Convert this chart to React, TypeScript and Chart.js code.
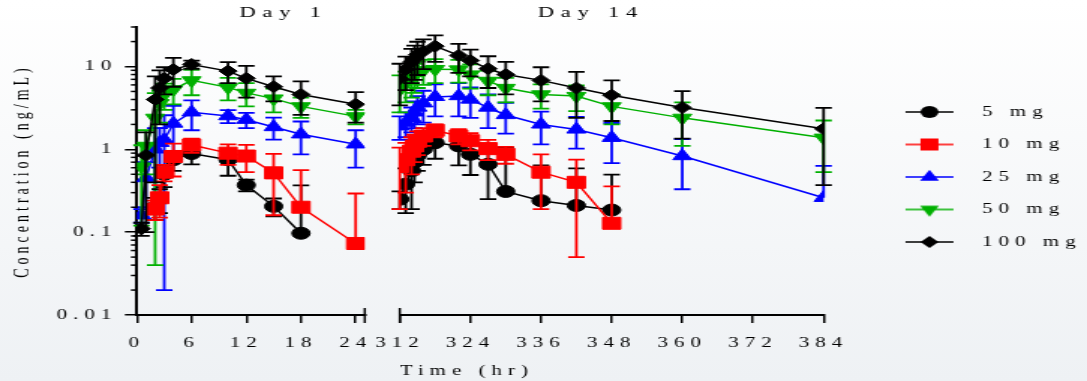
import React, { useEffect, useRef } from 'react';
import { Chart, registerables } from 'chart.js';

Chart.register(...registerables);

// ---------- data ----------
const doseLabels = ['5 mg', '10 mg', '25 mg', '50 mg', '100 mg'];
const doseColors = ['#000000', '#ff0000', '#0000ff', '#00b000', '#000000'];
const doseMarkers = ['circle', 'rect', 'triangle', 'triangleDown', 'rectRot'];
const doseDrawOrder = [2, 1, 4, 3, 0];

const day1Times = [0.5, 1, 2, 2.5, 3, 4, 6, 10, 12, 15, 18, 24];
const day14Times = [312, 313, 314, 314.5, 315, 316, 318, 322, 324, 327, 330, 336, 342, 348, 360, 384];

const day1Conc5 = [null, null, 0.2, 0.25, 0.5, 0.75, 0.89, 0.75, 0.37, 0.205, 0.097, null];
const day1Sd5 = [null, null, 0.06, 0.08, 0.15, 0.2, 0.23, 0.27, 0.06, 0.05, 0.27, null];
const day1Conc10 = [null, null, 0.19, 0.26, 0.53, 0.82, 1.13, 0.9, 0.83, 0.52, 0.2, 0.073];
const day1Sd10 = [null, null, 0.05, 0.11, 0.12, 0.35, 0.22, 0.25, 0.3, 0.36, 0.36, 0.22];
const day1Conc25 = [0.16, 0.45, 1.0, 1.2, 1.3, 2.05, 2.8, 2.52, 2.28, 1.86, 1.52, 1.15];
const day1Sd25 = [0.03, 0.25, 0.8, 0.6, 1.28, 1.3, 1.1, 0.45, 0.48, 0.55, 0.65, 0.55];
const day1Conc50 = [0.62, 1.1, 2.4, 3.6, 4.6, 5.3, 6.8, 5.6, 4.8, 4.1, 3.3, 2.5];
const day1Sd50 = [0.5, 0.6, 2.36, 1.5, 1.6, 1.8, 2.3, 1.7, 1.5, 1.3, 0.9, 0.5];
const day1Conc100 = [0.11, 0.85, 4.0, 5.5, 7.2, 9.2, 10.6, 8.8, 7.2, 5.7, 4.6, 3.5];
const day1Sd100 = [0.02, 0.75, 3.6, 3.5, 2.6, 3.5, 1.2, 2.5, 3.0, 1.9, 2.0, 1.4];

const day14Conc5 = [0.25, 0.38, 0.55, 0.7, 0.85, 1.0, 1.2, 1.1, 0.87, 0.66, 0.31, 0.24, 0.21, 0.185];
const day14Sd5 = [0.06, 0.21, 0.36, 0.3, 0.3, 0.35, 0.43, 0.46, 0.38, 0.41, 0.74, 0.4, 0.38, 0.31];
const day14Conc10 = [0.62, 0.75, 0.95, 1.1, 1.25, 1.45, 1.7, 1.45, 1.27, 1.02, 0.87, 0.53, 0.4, 0.128];
const day14Sd10 = [0.43, 0.45, 0.45, 0.4, 0.4, 0.35, 0.3, 0.3, 0.3, 0.28, 0.2, 0.34, 0.35, 0.23];
const day14Conc25 = [1.9, 2.1, 2.4, 2.8, 3.2, 3.6, 4.3, 4.4, 4.0, 3.2, 2.6, 2.0, 1.74, 1.38, 0.83, 0.26];
const day14Sd25 = [0.6, 0.7, 0.8, 1.0, 1.2, 1.5, 1.8, 1.9, 1.6, 1.4, 1.05, 0.85, 0.72, 0.7, 0.5, 0.37];
const day14Conc50 = [5.3, 6.2, 7.2, 7.8, 8.5, 9.0, 9.3, 9.2, 8.0, 6.7, 5.5, 4.6, 4.4, 3.3, 2.4, 1.38];
const day14Sd50 = [2.5, 2.5, 3, 3, 3, 3, 3, 2.8, 2.6, 2.2, 1.8, 1.5, 1.5, 1.3, 1.3, 0.85];
const day14Conc100 = [7.1, 9.2, 11.3, 12.4, 13.9, 15.3, 17.6, 13.6, 11.8, 9.4, 8.0, 6.8, 5.5, 4.5, 3.2, 1.77];
const day14Sd100 = [3.7, 4, 5, 5.5, 6, 6, 6.2, 5.2, 4.2, 3.9, 3.4, 3.0, 3.1, 2.3, 1.85, 1.4];

const day1Ticks = [0, 6, 12, 18, 24];
const day14Ticks = [312, 324, 336, 348, 360, 372, 384];
const yMajorTicks = [0.01, 0.1, 1, 10];
const yTickLabels = ['0.01', '0.1', '1', '10'];
const yMax = 30;

const panelTitles = [
  { text: 'Day 1', axis: 'x1', at: 15.7 },
  { text: 'Day 14', axis: 'x2', at: 343.9 },
];

const day1Conc = [day1Conc5, day1Conc10, day1Conc25, day1Conc50, day1Conc100];
const day1Sd = [day1Sd5, day1Sd10, day1Sd25, day1Sd50, day1Sd100];
const day14Conc = [day14Conc5, day14Conc10, day14Conc25, day14Conc50, day14Conc100];
const day14Sd = [day14Sd5, day14Sd10, day14Sd25, day14Sd50, day14Sd100];

// ---------- styling ----------
const FONT = '"Liberation Serif", "Times New Roman", serif';
const CANVAS_W = 725;
const CANVAS_H = 381;
const DISPLAY_W = 1087;
const LETTER_SPACING = '4px';
const markerRadius: Record<string, number> = { circle: 6, rect: 8.5, triangle: 7.3, triangleDown: 7.3, rectRot: 6 };
const CAP = 5.5;

function buildSeries(times: number[], values: (number | null)[], sds: (number | null)[]) {
  const data: { x: number; y: number }[] = [];
  const err: (number | null)[] = [];
  values.forEach((v, i) => {
    if (v == null) return;
    data.push({ x: times[i], y: v });
    err.push(sds[i] ?? null);
  });
  return { data, err };
}

function drawMarker(ctx: CanvasRenderingContext2D, style: string, x: number, y: number) {
  const r = markerRadius[style];
  ctx.beginPath();
  if (style === 'circle') {
    ctx.arc(x, y, r, 0, Math.PI * 2);
  } else if (style === 'rect') {
    const h = r * Math.SQRT1_2;
    ctx.rect(x - h, y - h, 2 * h, 2 * h);
  } else if (style === 'triangle') {
    const s = Math.sin((2 * Math.PI) / 3) * r;
    ctx.moveTo(x, y - r);
    ctx.lineTo(x + s, y + r / 2);
    ctx.lineTo(x - s, y + r / 2);
    ctx.closePath();
  } else if (style === 'triangleDown') {
    const s = Math.sin((2 * Math.PI) / 3) * r;
    ctx.moveTo(x, y + r);
    ctx.lineTo(x + s, y - r / 2);
    ctx.lineTo(x - s, y - r / 2);
    ctx.closePath();
  } else {
    ctx.moveTo(x, y - r);
    ctx.lineTo(x + r, y);
    ctx.lineTo(x, y + r);
    ctx.lineTo(x - r, y);
    ctx.closePath();
  }
  ctx.fill();
}

function makeLegendImage(style: string, color: string) {
  const c = document.createElement('canvas');
  c.width = 60;
  c.height = 20;
  const ctx = c.getContext('2d')!;
  ctx.strokeStyle = color;
  ctx.fillStyle = color;
  ctx.lineWidth = 1.5;
  ctx.beginPath();
  ctx.moveTo(26, 10);
  ctx.lineTo(58, 10);
  ctx.stroke();
  drawMarker(ctx, style, 42, 10);
  return c;
}

const spacingPlugin = {
  id: 'letterSpacing',
  beforeUpdate(chart: any) { chart.ctx.letterSpacing = LETTER_SPACING; },
  beforeLayout(chart: any) { chart.ctx.letterSpacing = LETTER_SPACING; },
  beforeDraw(chart: any) { chart.ctx.letterSpacing = LETTER_SPACING; },
};

const errorBarPlugin = {
  id: 'errorBars',
  beforeDatasetDraw(chart: any, args: any) {
    const ds = chart.data.datasets[args.index];
    const errs = ds.errorValues as (number | null)[];
    if (!errs) return;
    const meta = args.meta;
    const yScale = chart.scales[meta.yAxisID];
    const ctx = chart.ctx;
    ctx.save();
    ctx.strokeStyle = ds.borderColor;
    ctx.lineWidth = 1.8;
    meta.data.forEach((pt: any, i: number) => {
      const sd = errs[i];
      if (!sd) return;
      const v = ds.data[i].y;
      const top = yScale.getPixelForValue(v + sd);
      const lowVal = v - sd;
      const hasLow = lowVal > 0;
      const bottom = hasLow ? yScale.getPixelForValue(lowVal) : pt.y;
      ctx.beginPath();
      ctx.moveTo(pt.x, top);
      ctx.lineTo(pt.x, bottom);
      ctx.moveTo(pt.x - CAP, top);
      ctx.lineTo(pt.x + CAP, top);
      if (hasLow) {
        ctx.moveTo(pt.x - CAP, bottom);
        ctx.lineTo(pt.x + CAP, bottom);
      }
      ctx.stroke();
    });
    ctx.restore();
  },
};

const extrasPlugin = {
  id: 'axisExtras',
  afterDraw(chart: any) {
    const ctx = chart.ctx;
    const area = chart.chartArea;
    const y = chart.scales.y;
    ctx.save();
    ctx.strokeStyle = '#000';
    ctx.lineWidth = 1.5;
    // minor log ticks
    y.ticks.forEach((t: any) => {
      if (t.major) return;
      const py = y.getPixelForValue(t.value);
      ctx.beginPath();
      ctx.moveTo(area.left - 4, py);
      ctx.lineTo(area.left, py);
      ctx.stroke();
    });
    // axis break marks
    const breaks = [chart.scales.x1.getPixelForValue(chart.scales.x1.max), chart.scales.x2.getPixelForValue(chart.scales.x2.min)];
    breaks.forEach((bx: number) => {
      ctx.beginPath();
      ctx.moveTo(bx, area.bottom - 7);
      ctx.lineTo(bx, area.bottom + 8);
      ctx.stroke();
    });
    // panel titles
    ctx.fillStyle = '#000';
    ctx.font = `15px ${FONT}`;
    (ctx as any).letterSpacing = '4.5px';
    ctx.textAlign = 'center';
    ctx.textBaseline = 'middle';
    panelTitles.forEach((p) => {
      const px = chart.scales[p.axis].getPixelForValue(p.at);
      ctx.fillText(p.text, px + 2.25, 13);
    });
    ctx.restore();
  },
};

export default function App() {
  const ref = useRef<HTMLCanvasElement>(null);

  useEffect(() => {
    const canvas = ref.current;
    if (!canvas) return;
    Chart.defaults.font.family = FONT;
    Chart.defaults.color = '#000';

    const legendImages = doseMarkers.map((m, i) => makeLegendImage(m, doseColors[i]));
    const datasets: any[] = [];
    const makeDs = (i: number, axis: string, times: number[], vals: any[], sds: any[], day14: boolean) => {
      const s = buildSeries(times, vals, sds);
      const style = doseMarkers[i];
      return {
        label: doseLabels[i] + (day14 ? ' (Day 14)' : ''),
        data: s.data,
        errorValues: s.err,
        xAxisID: axis,
        yAxisID: 'y',
        borderColor: doseColors[i],
        backgroundColor: doseColors[i],
        pointBackgroundColor: doseColors[i],
        pointBorderColor: doseColors[i],
        borderWidth: 1.5,
        pointBorderWidth: 1,
        pointStyle: style === 'triangleDown' ? 'triangle' : style,
        rotation: style === 'triangleDown' ? 180 : 0,
        pointRadius: markerRadius[style],
        pointHoverRadius: markerRadius[style],
        tension: 0,
        fill: false,
        order: doseDrawOrder[i],
      };
    };
    for (let i = 0; i < 5; i++) datasets.push(makeDs(i, 'x1', day1Times, day1Conc[i], day1Sd[i], false));
    for (let i = 0; i < 5; i++) datasets.push(makeDs(i, 'x2', day14Times, day14Conc[i], day14Sd[i], true));

    const yTickValues: number[] = [];
    yMajorTicks.forEach((m) => {
      for (let k = 1; k <= 9; k++) {
        const v = m * k;
        if (v <= yMax * 1.0001) yTickValues.push(v);
      }
    });

    const tickFont = { family: FONT, size: 14 };
    const xGrid = { display: true, drawOnChartArea: false, drawTicks: true, tickLength: 8, color: '#000', lineWidth: 1.5 };
    const xBorder = { display: true, color: '#000', width: 2 };

    const chart = new Chart(canvas, {
      type: 'line',
      data: { datasets },
      options: {
        animation: false,
        responsive: false,
        maintainAspectRatio: false,
        devicePixelRatio: 1,
        layout: { padding: { left: 0, right: 0, top: 27, bottom: 0 } },
        plugins: {
          tooltip: { enabled: false },
          legend: {
            position: 'right',
            fullSize: false,
            align: 'center',
            maxWidth: 175.7,
            title: { display: true, text: '', font: { size: 10, lineHeight: 1.2 }, padding: 0 },
            labels: {
              usePointStyle: true,
              pointStyleWidth: 80.2,
              padding: 18.5,
              color: '#000',
              font: { family: FONT, size: 14 },
              generateLabels: () =>
                doseLabels.map((t, i) => ({
                  text: t,
                  pointStyle: legendImages[i],
                  fillStyle: doseColors[i],
                  strokeStyle: doseColors[i],
                  fontColor: '#000',
                  lineWidth: 0,
                  hidden: false,
                  datasetIndex: i,
                })),
            },
          },
        },
        scales: {
          x1: {
            type: 'linear',
            position: 'bottom',
            stack: 'time',
            stackWeight: 228,
            min: 0,
            max: 25,
            afterBuildTicks: (s: any) => { s.ticks = day1Ticks.map((v) => ({ value: v })); },
            afterFit: (s: any) => { s.height = 66; },
            ticks: { autoSkip: false, maxRotation: 0, padding: 11.5, font: tickFont, color: '#000', callback: (v: any) => String(v) },
            grid: xGrid,
            border: xBorder,
          },
          xgap: {
            type: 'linear',
            position: 'bottom',
            stack: 'time',
            stackWeight: 35,
            min: 0,
            max: 1,
            afterFit: (s: any) => { s.height = 66; },
            ticks: { display: false },
            grid: { display: false },
            border: { display: false },
          },
          x2: {
            type: 'linear',
            position: 'bottom',
            stack: 'time',
            stackWeight: 424,
            min: 312,
            max: 384,
            afterBuildTicks: (s: any) => { s.ticks = day14Ticks.map((v) => ({ value: v })); },
            afterFit: (s: any) => { s.height = 66; },
            ticks: { autoSkip: false, maxRotation: 0, padding: 11.5, font: tickFont, color: '#000', callback: (v: any) => String(v) },
            grid: xGrid,
            border: xBorder,
            title: { display: true, text: 'Time (hr)', align: 'start', color: '#000', font: { family: FONT, size: 14 }, padding: { top: 0, bottom: 1.6 } },
          },
          y: {
            type: 'logarithmic',
            position: 'left',
            min: 0.01,
            max: yMax,
            afterBuildTicks: (s: any) => {
              s.ticks = yTickValues.map((v) => ({ value: v, major: yMajorTicks.some((m) => Math.abs(m - v) < m * 1e-6) }));
            },
            afterFit: (s: any) => { s.width = 91.3; },
            ticks: {
              autoSkip: false,
              padding: 5,
              font: tickFont,
              color: '#000',
              callback: (v: any) => {
                const idx = yMajorTicks.findIndex((m) => Math.abs(m - v) < m * 1e-6);
                return idx >= 0 ? yTickLabels[idx] : '';
              },
            },
            grid: {
              display: true,
              drawOnChartArea: false,
              drawTicks: true,
              tickLength: 8,
              lineWidth: 1.5,
              tickColor: (c: any) => (c.tick && c.tick.major ? '#000' : 'rgba(0,0,0,0)'),
            },
            border: { display: true, color: '#000', width: 2 },
            title: { display: true, text: 'Concentration (ng/mL)', color: '#000', font: { family: FONT, size: 14 }, padding: { top: 7, bottom: 0 } },
          },
        },
      } as any,
      plugins: [spacingPlugin, errorBarPlugin, extrasPlugin],
    });

    return () => chart.destroy();
  }, []);

  return (
    <div
      style={{
        position: 'absolute',
        left: 0,
        top: 0,
        width: DISPLAY_W,
        height: CANVAS_H,
        overflow: 'hidden',
        background: 'linear-gradient(#ffffff, #eef1f4)',
      }}
    >
      <canvas
        ref={ref}
        width={CANVAS_W}
        height={CANVAS_H}
        style={{ width: DISPLAY_W + 'px', height: CANVAS_H + 'px', display: 'block' }}
      />
    </div>
  );
}
